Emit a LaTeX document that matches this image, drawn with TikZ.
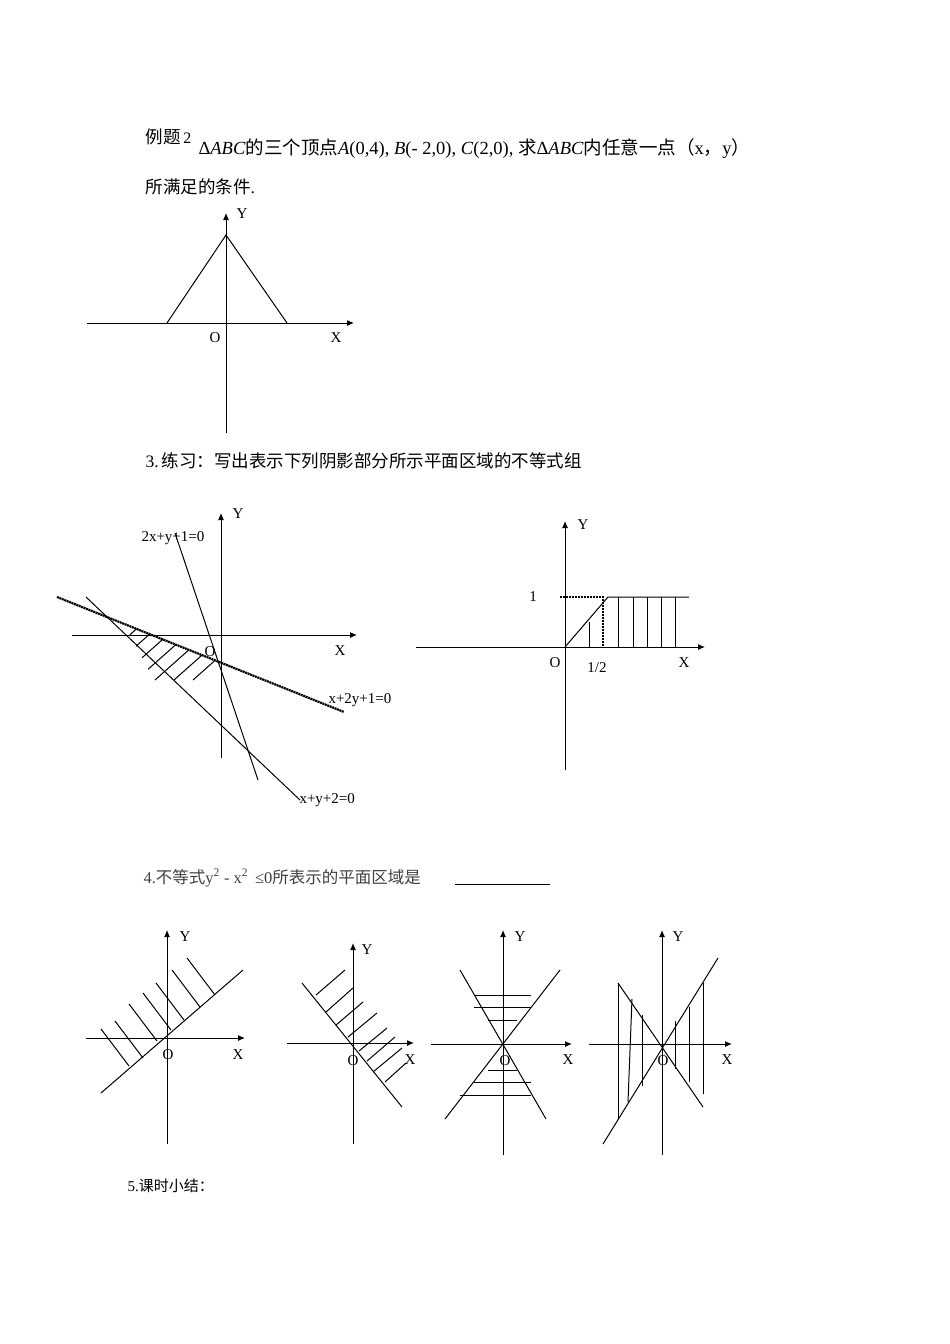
\documentclass[tikz,border=0pt]{standalone}
\usepackage{fontspec}
\setmainfont{Liberation Serif}
\newfontfamily\cjk{Noto Sans CJK SC}
\usetikzlibrary{arrows.meta}
\begin{document}
\begin{tikzpicture}[x=1pt,y=-1pt,line width=1pt,
  ax/.style={-{Latex[length=7pt,width=6pt]}},
  lbl/.style={inner sep=0pt,font=\fontsize{15}{15}\selectfont},
  txt/.style={inner sep=0pt,anchor=west,font=\fontsize{17.5}{17.5}\selectfont}]
\useasboundingbox (0,0) rectangle (950,1344);
% header text
\node[txt] (t1) at (145,137) {\cjk 例题\,\fontsize{16}{16}\selectfont\rmfamily 2};
\node[txt,font=\fontsize{18.5}{18.5}\selectfont] (t2) at (198,149) {Δ\textit{ABC}{\cjk 的三个顶点}\textit{A}(0,4), \textit{B}(- 2,0), \textit{C}(2,0), {\cjk 求}Δ\textit{ABC}{\cjk 内任意一点（}x{\cjk ，}y{\cjk ）}};
\node[txt] (t3) at (145,187) {{\cjk 所满足的条件}.};
% fig 1
\coordinate (a1) at (226,433); \coordinate (a2) at (226,213);
\coordinate (b1) at (87,323); \coordinate (b2) at (354,323);
\draw[ax] (a1) -- (a2); \draw[ax] (b1) -- (b2);
\coordinate (A) at (226,235); \coordinate (B) at (167,323); \coordinate (C) at (287,323);
\draw (B) -- (A) -- (C);
\node[lbl] (y1) at (242,214) {Y}; \node[lbl] (o1) at (215,338) {O}; \node[lbl] (x1) at (336,338) {X};
% section 3 text
\node[txt] (t4) at (145,461) {3.\,{\cjk 练习：写出表示下列阴影部分所示平面区域的不等式组}};
% fig 2
\coordinate (c1) at (221,758); \coordinate (c2) at (221,513);
\coordinate (d1) at (72,635); \coordinate (d2) at (357,635);
\draw[ax] (c1) -- (c2); \draw[ax] (d1) -- (d2);
\coordinate (L1a) at (175,533); \coordinate (L1b) at (258,780);
\coordinate (L2a) at (57,597); \coordinate (L2b) at (344,712);
\coordinate (L3a) at (86,597); \coordinate (L3b) at (300,800);
\draw (L1a) -- (L1b);
\draw[line width=2.2pt,dash pattern=on 2pt off 0.6pt] (L2a) -- (L2b);
\draw (L3a) -- (L3b);
\begin{scope}
\clip (124,624) -- (218.2,661.6) -- (232,723) -- (177,723) -- cycle;
\foreach \k in {0,...,7} {
  \draw ({150+\k*19},600) -- ++(-90,80);
}
\end{scope}
\node[lbl,anchor=west] (e1) at (141,538) {2x+y+1=0};
\node[lbl,anchor=west] (e2) at (328,700) {x+2y+1=0};
\node[lbl,anchor=west] (e3) at (299,800) {x+y+2=0};
\node[lbl] (y2) at (238,514) {Y}; \node[lbl] (o2) at (210,652) {O}; \node[lbl] (x2) at (340,651) {X};
% fig 3
\coordinate (f1) at (565,770); \coordinate (f2) at (565,521);
\coordinate (g1) at (416,647); \coordinate (g2) at (705,647);
\draw[ax] (f1) -- (f2); \draw[ax] (g1) -- (g2);
\draw[line width=2pt,dash pattern=on 2pt off 1pt] (560,597) -- (603,597) -- (603,647);
\draw (565,647) -- (608,597) -- (689,597);
\draw (589,622) -- (589,647);
\foreach \xx in {618,633,647,661,675} {\draw (\xx,597) -- (\xx,647);}
\node[lbl] (y3) at (583,525) {Y}; \node[lbl] (n1) at (533,597) {1};
\node[lbl] (o3) at (555,663) {O}; \node[lbl] (h3) at (597,668) {1/2}; \node[lbl] (x3) at (684,663) {X};
% section 4 text
\node[txt,text=black!75,font=\fontsize{16.5}{16.5}\selectfont] (t5) at (143,878) {4.{\cjk 不等式}y\textsuperscript{2} - x\textsuperscript{2} \,≤0{\cjk 所表示的平面区域是}};
\draw[line width=0.8pt] (455,884) -- (550,884);
% fig a
\draw[ax] (167,1144) -- (167,930); \draw[ax] (86,1038) -- (245,1038);
\draw (101,1093) -- (243,970);
\foreach \p/\q in {101/1029, 115/1021, 129/1004, 143/993, 156/983, 172/970, 187/958} {\draw (\p,\q) -- ++(28,37);}
\node[lbl] (ya) at (185,937) {Y}; \node[lbl] (oa) at (168,1055) {O}; \node[lbl] (xa) at (238,1055) {X};
% fig b
\draw[ax] (353,1144) -- (353,943); \draw[ax] (287,1043) -- (414,1043);
\draw (302,983) -- (402,1107);
\foreach \p/\q/\r/\s in {316/995/345/970, 326/1012/353/988, 336/1025/363/1002, 348/1037/377/1013, 359/1051/387/1028, 367/1061/395/1037, 373/1072/402/1048, 385/1082/406/1063} {\draw (\p,\q) -- (\r,\s);}
\node[lbl] (yb) at (367,950) {Y}; \node[lbl] (ob) at (353,1061) {O}; \node[lbl] (xb) at (410,1060) {X};
% fig c
\draw[ax] (503,1155) -- (503,930); \draw[ax] (431,1044) -- (572,1044);
\draw (460,970) -- (546,1119); \draw (560,970) -- (445,1119);
\foreach \yy/\xa/\xb in {995/474/531, 1007/474/531, 1020/488/517, 1070/488/517, 1082/474/531, 1095/460/531} {\draw (\xa,\yy) -- (\xb,\yy);}
\node[lbl] (yc) at (520,937) {Y}; \node[lbl] (oc) at (505,1061) {O}; \node[lbl] (xc) at (568,1060) {X};
% fig d
\draw[ax] (662,1155) -- (662,930); \draw[ax] (589,1044) -- (732,1044);
\draw (718,958) -- (603,1144); \draw (618,983) -- (703,1107);
\draw (618,983) -- (618,1119);
\draw (632,999) -- (628,1102);
\draw (642,1015) -- (642,1086);
\draw (675,1021) -- (675,1069);
\draw (689,1007) -- (689,1082);
\draw (703,983) -- (703,1094);
\node[lbl] (yd) at (678,937) {Y}; \node[lbl] (od) at (663,1061) {O}; \node[lbl] (xd) at (727,1060) {X};
% section 5
\node[txt,font=\fontsize{15}{15}\selectfont] (t6) at (127,1186) {5.{\cjk 课时小结：}};
\end{tikzpicture}
\end{document}
